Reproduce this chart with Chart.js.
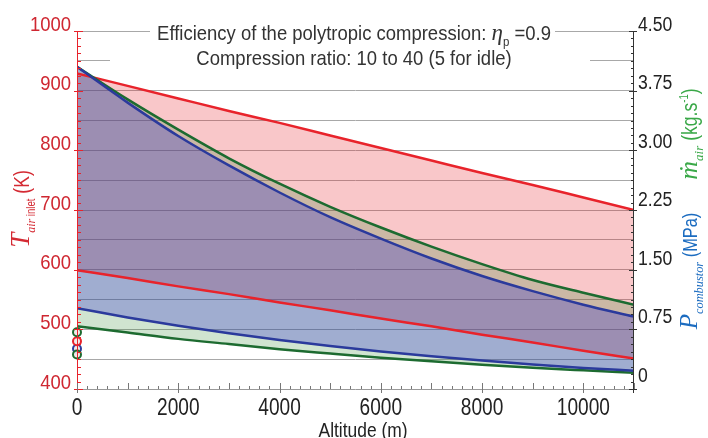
<!DOCTYPE html>
<html>
<head>
<meta charset="utf-8">
<script src="https://cdn.jsdelivr.net/npm/chart.js@4.4.1/dist/chart.umd.min.js"></script>
<style>
  html, body { margin: 0; padding: 0; background: #fff; }
  #wrap { width: 708px; height: 438px; }
</style>
</head>
<body>
<div id="wrap"><canvas id="chart" width="708" height="438"></canvas></div>
<script>
// Altitude (m)
const altitude = [0, 1000, 2000, 3000, 4000, 5000, 6000, 7000, 8000, 9000, 10000, 11000];

// Inlet air temperature (K), compression ratio 40 and 10
const tempHigh = [929, 908, 887, 866, 846, 825, 804, 783, 762, 742, 721, 700];
const tempLow = [599, 586, 572, 559, 545, 532, 518, 505, 491, 478, 464, 451];

// Air mass flow (kg/s)
const massHigh = [4.05, 3.64, 3.26, 2.90, 2.58, 2.29, 2.03, 1.79, 1.57, 1.37, 1.21, 1.06];
const massLow = [0.79, 0.71, 0.63, 0.565, 0.50, 0.446, 0.394, 0.348, 0.305, 0.267, 0.235, 0.205];

// Combustor pressure (MPa)
const pressHigh = [4.05, 3.60, 3.18, 2.81, 2.47, 2.16, 1.89, 1.64, 1.42, 1.23, 1.06, 0.91];
const pressLow = [1.015, 0.90, 0.796, 0.702, 0.617, 0.541, 0.472, 0.411, 0.357, 0.308, 0.265, 0.23];

// Idle points (compression ratio 5), at altitude 0
const idleMass = [0.714, 0.434];
const idleTemp = [480];
const idlePress = [0.505];

// axis ticks
const tempLabels = [400, 500, 600, 700, 800, 900, 1000];
const rightLabels = ['0', '0.75', '1.50', '2.25', '3.00', '3.75', '4.50'];
const altLabels = [0, 2000, 4000, 6000, 8000, 10000];

const RED = '#e8232b';
const GREEN = '#1d6b30';
const BLUE = '#2b3a9c';
const SANS = '"Liberation Sans", Arial, sans-serif';
const SERIF = '"Liberation Serif", "DejaVu Serif", serif';

function pts(values) {
    return altitude.map((a, i) => ({ x: a, y: values[i] }));
}

function lineSet(values, color, axis, fill, fillColor, order) {
    return {
        data: pts(values),
        yAxisID: axis,
        borderColor: color,
        borderWidth: 2.5,
        pointRadius: 0,
        cubicInterpolationMode: 'monotone',
        fill: fill,
        backgroundColor: fillColor,
        order: order
    };
}

function idleSet(values, color, axis) {
    return {
        data: values.map(v => ({ x: 0, y: v })),
        yAxisID: axis,
        showLine: false,
        pointRadius: 4,
        borderWidth: 2,
        borderColor: color,
        pointBackgroundColor: 'rgba(240,232,232,0.9)',
        clip: false,
        order: 0
    };
}

// narrow text: normal font squeezed horizontally
function narrowText(ctx, text, x, y, font, sx, align, color) {
    ctx.save();
    ctx.translate(x, y);
    ctx.scale(sx, 1);
    ctx.font = font;
    ctx.fillStyle = color;
    ctx.textAlign = align;
    ctx.textBaseline = 'alphabetic';
    ctx.fillText(text, 0, 0);
    ctx.restore();
}

// pieces: [text, font, dy, sx]; drawn centred on 0 along the baseline
function richText(ctx, pieces, color) {
    let total = 0;
    pieces.forEach(p => { ctx.font = p[1]; total += ctx.measureText(p[0]).width * p[3]; });
    let x = -total / 2;
    ctx.fillStyle = color;
    ctx.textBaseline = 'alphabetic';
    ctx.textAlign = 'left';
    pieces.forEach(p => {
        ctx.save();
        ctx.translate(x, p[2]);
        ctx.scale(p[3], 1);
        ctx.font = p[1];
        ctx.fillText(p[0], 0, 0);
        ctx.restore();
        ctx.font = p[1];
        x += ctx.measureText(p[0]).width * p[3];
    });
}

const extras = {
    id: 'extras',
    beforeDatasetsDraw(chart) {
        const ctx = chart.ctx;
        const a = chart.chartArea;
        ctx.save();
        ctx.strokeStyle = '#a8a8a8';
        ctx.lineWidth = 1;
        ctx.beginPath(); ctx.moveTo(a.left, a.top + 0.5); ctx.lineTo(a.right, a.top + 0.5); ctx.stroke();
        // white boxes behind the title
        ctx.fillStyle = '#fff';
        ctx.fillRect(150, 18, 405, 25);
        ctx.fillRect(110, 43, 480, 26);
        ctx.restore();
    },
    afterDraw(chart) {
        const ctx = chart.ctx;
        const a = chart.chartArea;
        const sx = chart.scales.x, sl = chart.scales.yT, sr = chart.scales.yR;
        ctx.save();

        // axis lines
        ctx.lineWidth = 1;
        ctx.strokeStyle = '#999';
        ctx.beginPath(); ctx.moveTo(a.left, a.bottom + 0.5); ctx.lineTo(a.right, a.bottom + 0.5); ctx.stroke();
        ctx.strokeStyle = RED;
        ctx.beginPath(); ctx.moveTo(a.left + 0.5, a.top); ctx.lineTo(a.left + 0.5, a.bottom + 4); ctx.stroke();
        ctx.strokeStyle = '#333';
        ctx.beginPath(); ctx.moveTo(a.right - 0.5, a.top); ctx.lineTo(a.right - 0.5, a.bottom + 4); ctx.stroke();

        // left ticks
        ctx.strokeStyle = RED;
        sl.ticks.forEach(t => {
            const y = Math.round(sl.getPixelForValue(t.value)) + 0.5;
            const major = t.value % 100 === 0;
            ctx.beginPath();
            ctx.moveTo(a.left - (major ? 3 : 0), y);
            ctx.lineTo(a.left + (major ? 6 : 4), y);
            ctx.stroke();
        });
        // right ticks
        ctx.strokeStyle = '#333';
        sr.ticks.forEach(t => {
            const y = Math.round(sr.getPixelForValue(t.value)) + 0.5;
            const major = Math.abs(t.value / 0.75 - Math.round(t.value / 0.75)) < 1e-6;
            ctx.beginPath();
            ctx.moveTo(a.right - (major ? 5 : 3), y);
            ctx.lineTo(a.right + (major ? 3 : 0), y);
            ctx.stroke();
        });
        // bottom ticks
        ctx.strokeStyle = '#777';
        sx.ticks.forEach(t => {
            const x = Math.round(sx.getPixelForValue(t.value)) + 0.5;
            const major = t.value % 1000 === 0;
            ctx.beginPath();
            ctx.moveTo(x, a.bottom - (major ? 6 : 3));
            ctx.lineTo(x, a.bottom + (t.value % 2000 === 0 ? 4 : 0));
            ctx.stroke();
        });

        // tick labels
        tempLabels.forEach(v => {
            const y = sl.getPixelForValue(v);
            narrowText(ctx, String(v), 71, y - 0.5, '21px ' + SANS, 0.88, 'right', '#cf2731');
        });
        rightLabels.forEach((s, i) => {
            const v = i * 0.75;
            const y = sr.getPixelForValue(v) - 7.5 * (1 - v / 4.5);
            narrowText(ctx, s, 638, y, '20px ' + SANS, 0.88, 'left', '#222');
        });
        altLabels.forEach(v => {
            narrowText(ctx, String(v), sx.getPixelForValue(v), 415, '23px ' + SANS, 0.83, 'center', '#222');
        });
        narrowText(ctx, 'Altitude (m)', 363, 437, '20px ' + SANS, 0.87, 'center', '#222');

        // title
        ctx.save();
        ctx.translate(354, 40);
        richText(ctx, [
            ['Efficiency of the polytropic compression: ', '21px ' + SANS, 0, 0.88],
            ['\u03B7', 'italic 23px ' + SERIF, 0, 1],
            ['p', '13px ' + SANS, 6, 0.88],
            [' =0.9', '21px ' + SANS, 0, 0.88]
        ], '#333');
        ctx.restore();
        ctx.save();
        ctx.translate(354, 65);
        richText(ctx, [['Compression ratio: 10 to 40 (5 for idle)', '21px ' + SANS, 0, 0.88]], '#333');
        ctx.restore();

        // left axis title
        ctx.save();
        ctx.translate(29, 209);
        ctx.rotate(-Math.PI / 2);
        richText(ctx, [
            ['T', 'italic 27px ' + SERIF, 0, 1],
            ['air', 'italic 12px ' + SERIF, 6, 1],
            [' inlet', '12px ' + SANS, 6, 0.8],
            [' (K)', '22px ' + SANS, 0, 0.8]
        ], '#d42a33');
        ctx.restore();

        // right axis titles
        ctx.save();
        ctx.translate(697, 271);
        ctx.rotate(-Math.PI / 2);
        richText(ctx, [
            ['P', 'italic 25px ' + SERIF, 0, 1],
            ['combustor', 'italic 13px ' + SERIF, 6, 0.95],
            [' (MPa)', '21px ' + SANS, 0, 0.78]
        ], '#1c6cc0');
        ctx.restore();

        ctx.save();
        ctx.translate(697, 134);
        ctx.rotate(-Math.PI / 2);
        richText(ctx, [
            ['\u1E41', 'italic 26px ' + SERIF, 0, 1],
            ['air', 'italic 13px ' + SERIF, 6, 1],
            [' (kg.s', '22px ' + SANS, 0, 0.8],
            ['-1', '12px ' + SANS, -9, 0.8],
            [')', '22px ' + SANS, 0, 0.8]
        ], '#3aa848');
        ctx.restore();

        ctx.restore();
    }
};

const ctx = document.getElementById('chart').getContext('2d');
const chart = new Chart(ctx, {
    type: 'line',
    data: {
        datasets: [
            lineSet(tempHigh, RED, 'yT', '+1', 'rgba(230,30,40,0.25)', 3),
            lineSet(tempLow, RED, 'yT', false, 'transparent', 3),
            lineSet(massHigh, GREEN, 'yR', '+1', 'rgba(40,130,40,0.22)', 2),
            lineSet(massLow, GREEN, 'yR', false, 'transparent', 2),
            lineSet(pressHigh, BLUE, 'yR', '+1', 'rgba(50,45,210,0.30)', 1),
            lineSet(pressLow, BLUE, 'yR', false, 'transparent', 1),
            idleSet(idleMass, GREEN, 'yR'),
            idleSet(idleTemp, RED, 'yT'),
            idleSet(idlePress, BLUE, 'yR')
        ]
    },
    options: {
        responsive: false,
        devicePixelRatio: 1,
        animation: false,
        layout: { padding: { top: 31, left: 0, right: 0, bottom: 0 } },
        plugins: {
            legend: { display: false },
            tooltip: { enabled: false },
            filler: { drawTime: 'beforeDatasetsDraw' }
        },
        scales: {
            x: {
                type: 'linear',
                min: 0,
                max: 11000,
                afterFit: s => { s.height = 49; },
                border: { display: false },
                grid: { display: false, drawTicks: false },
                ticks: { display: false, stepSize: 200, maxTicksLimit: 200, autoSkip: false }
            },
            yT: {
                type: 'linear',
                position: 'left',
                min: 400,
                max: 1000,
                afterFit: s => { s.width = 77; },
                border: { display: false },
                grid: {
                    drawTicks: false,
                    color: c => (c.tick && c.tick.value % 50 === 0 && c.tick.value !== 400 ? '#a8a8a8' : 'transparent'),
                    lineWidth: 1
                },
                ticks: { display: false, stepSize: 12.5, maxTicksLimit: 200, autoSkip: false }
            },
            yR: {
                type: 'linear',
                position: 'right',
                min: 0,
                max: 4.5,
                afterFit: s => { s.width = 74; },
                border: { display: false },
                grid: { display: false, drawTicks: false },
                ticks: { display: false, stepSize: 0.09375, maxTicksLimit: 200, autoSkip: false }
            }
        }
    },
    plugins: [extras]
});
</script>
</body>
</html>
